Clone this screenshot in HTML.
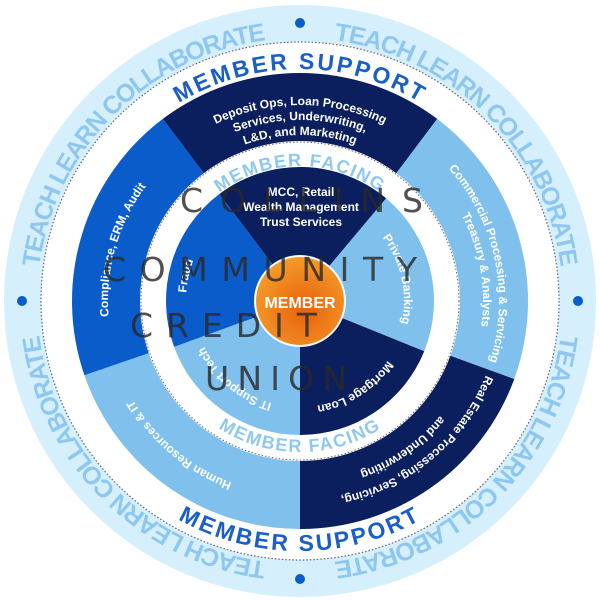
<!DOCTYPE html>
<html><head><meta charset="utf-8"><style>
html,body{margin:0;padding:0;background:#fff;}
svg{display:block;}
.b{font-family:"Liberation Sans",sans-serif;font-weight:bold;}
</style></head><body>
<svg id="s" width="600" height="600" viewBox="0 0 600 600" xmlns="http://www.w3.org/2000/svg">
<defs id="d"></defs>
<g id="shapes"></g>
<g id="texts" class="b">
<g fill="#8ec8f0" font-size="25">
<text><textPath href="#rq0" startOffset="50%" text-anchor="middle" textLength="345" lengthAdjust="spacing">TEACH LEARN COLLABORATE</textPath></text>
<text><textPath href="#rq1" startOffset="50%" text-anchor="middle" textLength="345" lengthAdjust="spacing">TEACH LEARN COLLABORATE</textPath></text>
<text><textPath href="#rq2" startOffset="50%" text-anchor="middle" textLength="345" lengthAdjust="spacing">TEACH LEARN COLLABORATE</textPath></text>
<text><textPath href="#rq3" startOffset="50%" text-anchor="middle" textLength="345" lengthAdjust="spacing">TEACH LEARN COLLABORATE</textPath></text>
</g>
<g fill="#1a5fc8" font-size="23" letter-spacing="2.5">
<text><textPath href="#msTop" startOffset="50%" text-anchor="middle">MEMBER SUPPORT</textPath></text>
<text><textPath href="#msBot" startOffset="50%" text-anchor="middle">MEMBER SUPPORT</textPath></text>
</g>
<g fill="#8ec8f0" font-size="18" letter-spacing="1.5">
<text><textPath href="#mfTop" startOffset="50%" text-anchor="middle">MEMBER FACING</textPath></text>
<text><textPath href="#mfBot" startOffset="50%" text-anchor="middle">MEMBER FACING</textPath></text>
</g>
<g fill="#fff" font-size="12">
<text><textPath href="#t1" startOffset="50%" text-anchor="middle">Deposit Ops, Loan Processing</textPath></text>
<text><textPath href="#t2" startOffset="50%" text-anchor="middle">Services, Underwriting,</textPath></text>
<text><textPath href="#t3" startOffset="50%" text-anchor="middle">L&amp;D, and Marketing</textPath></text>
<text><textPath href="#c1" startOffset="50%" text-anchor="middle">Compliance, ERM, Audit</textPath></text>
<text><textPath href="#r1" startOffset="50%" text-anchor="middle">Commercial Processing &amp; Servicing</textPath></text>
<text><textPath href="#r2" startOffset="50%" text-anchor="middle">Treasury &amp; Analysts</textPath></text>
<text><textPath href="#e1" startOffset="50%" text-anchor="middle">Real Estate Processing, Servicing,</textPath></text>
<text><textPath href="#e2" startOffset="50%" text-anchor="middle">and Underwriting</textPath></text>
<text><textPath href="#h1" startOffset="50%" text-anchor="middle">Human Resources &amp; IT</textPath></text>
<text><textPath href="#f1" startOffset="50%" text-anchor="middle">Fraud</textPath></text>
<text><textPath href="#p1" startOffset="50%" text-anchor="middle">Private Banking</textPath></text>
<text><textPath href="#m1" startOffset="50%" text-anchor="middle">Mortgage Loan</textPath></text>
<text><textPath href="#i1" startOffset="50%" text-anchor="middle">IT Support Tech</textPath></text>
<text x="301" y="196" text-anchor="middle">MCC, Retail</text>
<text x="301" y="211" text-anchor="middle">Wealth Management</text>
<text x="301" y="226" text-anchor="middle">Trust Services</text>
<text x="300" y="308" text-anchor="middle" font-size="16">MEMBER</text>
</g>
</g>
<g font-family="'DejaVu Sans','Liberation Sans',sans-serif" font-weight="normal" fill="#2a2a2a" fill-opacity="0.82" font-size="33">
<text x="180" y="212" textLength="243" lengthAdjust="spacing">COLLINS</text>
<text x="103" y="281" textLength="314" lengthAdjust="spacing">COMMUNITY</text>
<text x="130" y="337" textLength="187" lengthAdjust="spacing">CREDIT</text>
<text x="205" y="390" textLength="142" lengthAdjust="spacing">UNION</text>
</g>
</svg>
<script>
var cx=300,cy=301,NS="http://www.w3.org/2000/svg";
function P(r,a){a=a*Math.PI/180;return [cx+r*Math.sin(a),cy-r*Math.cos(a)];}
function f(p){return p[0].toFixed(2)+" "+p[1].toFixed(2);}
function sector(r1,r2,a1,a2){var s=(a2-a1)>180?1:0;
return "M"+f(P(r2,a1))+" A"+r2+" "+r2+" 0 "+s+" 1 "+f(P(r2,a2))+" L"+f(P(r1,a2))+" A"+r1+" "+r1+" 0 "+s+" 0 "+f(P(r1,a1))+"Z";}
function arcCW(r,a1,a2){var s=(a2-a1)>180?1:0;return "M"+f(P(r,a1))+" A"+r+" "+r+" 0 "+s+" 1 "+f(P(r,a2));}
function arcCCW(r,a1,a2){var s=(a1-a2)>180?1:0;return "M"+f(P(r,a1))+" A"+r+" "+r+" 0 "+s+" 0 "+f(P(r,a2));}
var g=document.getElementById("shapes"),d=document.getElementById("d");
function el(p,attrs){var e=document.createElementNS(NS,p);for(var k in attrs)e.setAttribute(k,attrs[k]);return e;}
function add(t,a){g.appendChild(el(t,a));}
function def(id,path){d.appendChild(el("path",{id:id,d:path,fill:"none"}));}
var NAVY="#0b1f5e",MED="#0a5ccb",LIGHT="#80c0ec";
add("circle",{cx:cx,cy:cy,r:296,fill:"#d6effc"});
add("circle",{cx:cx,cy:cy,r:259,fill:"#fff",stroke:"#666","stroke-width":1.2,"stroke-dasharray":"1.5 2"});
var segs=[[-37,37,NAVY],[37,110,LIGHT],[110,180,NAVY],[180,251,LIGHT],[251,323,MED]];
segs.forEach(function(s){add("path",{d:sector(160,228,s[0],s[1]),fill:s[2]});});
add("circle",{cx:cx,cy:cy,r:159,fill:"#fff"});
add("circle",{cx:cx,cy:cy,r:159,fill:"none",stroke:"#666","stroke-width":1,"stroke-dasharray":"1.5 2"});
var segs2=[[-37,40,NAVY],[40,112,LIGHT],[112,180,NAVY],[180,250,LIGHT],[250,323,MED]];
segs2.forEach(function(s){add("path",{d:sector(0,134,s[0],s[1]),fill:s[2]});});
var rg=el("radialGradient",{id:"og",cx:"0.55",cy:"0.6",r:"0.6"});
rg.appendChild(el("stop",{offset:"0","stop-color":"#e8600a"}));
rg.appendChild(el("stop",{offset:"1","stop-color":"#f39a2a"}));
d.appendChild(rg);
add("circle",{cx:cx,cy:cy,r:46,fill:"#fff"});
add("circle",{cx:cx,cy:cy,r:44,fill:"url(#og)"});
[0,90,180,270].forEach(function(a){var p=P(278,a);add("circle",{cx:p[0],cy:p[1],r:5,fill:"#0a5ccb"});});
def("rq0",arcCW(263,273,357));def("rq1",arcCW(263,3,87));def("rq2",arcCW(263,93,177));def("rq3",arcCW(263,183,267));
def("msTop",arcCW(232,-45,45));def("msBot",arcCCW(250,225,135));
def("mfTop",arcCW(135,-60,60));def("mfBot",arcCCW(151,240,120));
def("t1",arcCW(196,-45,45));def("t2",arcCW(181,-45,45));def("t3",arcCW(166,-45,45));
def("c1",arcCW(192,250,322));
def("r1",arcCW(199,38,118));def("r2",arcCW(183,45,115));
def("e1",arcCW(200,100,180));def("e2",arcCW(181,110,180));
def("h1",arcCW(194,190,250));
def("f1",arcCW(114,260,305));
def("p1",arcCW(104,40,115));def("m1",arcCW(106,115,180));def("i1",arcCW(106,185,255));
</script>
</body></html>
